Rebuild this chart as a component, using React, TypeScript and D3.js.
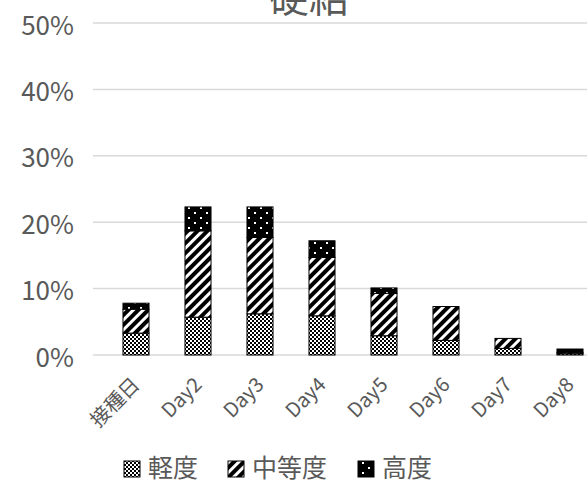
import React from "react";
import * as d3 from "d3";

const title = "硬結";
const categories = ["接種日", "Day2", "Day3", "Day4", "Day5", "Day6", "Day7", "Day8"];
const seriesNames = ["軽度", "中等度", "高度"];
const mild = [3.3, 5.7, 6.2, 5.9, 2.9, 2.2, 1.0, 0.2];
const moderate = [3.6, 13.0, 11.5, 8.8, 6.4, 5.1, 1.5, 0.2];
const severe = [0.9, 3.6, 4.6, 2.5, 0.8, 0, 0, 0.5];
const yTicks = [0, 10, 20, 30, 40, 50];

const W = 587;
const H = 483;
const FONT = "'Noto Sans CJK JP', 'Noto Sans', sans-serif";
const TEXT = "#595959";

export default function App() {
  const x = d3
    .scaleBand<string>()
    .domain(categories)
    .range([105, 601])
    .paddingInner(0.58)
    .paddingOuter(0.29);
  const y = d3.scaleLinear().domain([0, 50]).range([355, 23]);

  const rows = categories.map((c, i) => ({ cat: c, a: mild[i], b: moderate[i], c: severe[i] }));
  const stack = d3.stack<any>().keys(["a", "b", "c"])(rows);
  const fills = ["url(#pMild)", "url(#pMod)", "url(#pSev)"];

  const legendX = [124, 228, 358];

  return (
    <svg width={W} height={H} style={{ position: "absolute", left: 0, top: 0, overflow: "hidden" }}>
      <defs>
        <pattern id="pMild" width="4" height="4" patternUnits="userSpaceOnUse">
          <rect width="4" height="4" fill="#fff" />
          <rect x="0" y="0" width="2" height="2" fill="#000" />
          <rect x="2" y="2" width="2" height="2" fill="#000" />
        </pattern>
        <pattern id="pMod" width="7" height="7" patternUnits="userSpaceOnUse" patternTransform="rotate(45)">
          <rect width="7" height="7" fill="#fff" />
          <rect x="0" y="0" width="4" height="7" fill="#000" />
        </pattern>
        <pattern id="pSev" width="12" height="10" patternUnits="userSpaceOnUse">
          <rect width="12" height="10" fill="#000" />
          <rect x="2" y="2" width="2" height="2" fill="#fff" />
          <rect x="8" y="7" width="2" height="2" fill="#fff" />
        </pattern>
      </defs>

      <text x={309} y={12} textAnchor="middle" fontFamily={FONT} fontSize={40} fill={TEXT}>
        {title}
      </text>

      {yTicks.map((t) => (
        <g key={t}>
          <line x1={93} x2={587} y1={y(t)} y2={y(t)} stroke="#d9d9d9" strokeWidth={1.5} />
          <text
            x={74}
            y={y(t)}
            textAnchor="end"
            dominantBaseline="central"
            fontFamily={FONT}
            fontSize={26}
            fill={TEXT}
          >
            {t}%
          </text>
        </g>
      ))}

      {stack.map((layer, li) => (
        <g key={li}>
          {layer.map((d, i) => {
            const h = y(d[0]) - y(d[1]);
            if (h <= 0) return null;
            return (
              <rect
                key={i}
                x={x(categories[i])!}
                y={y(d[1])}
                width={x.bandwidth()}
                height={h}
                fill={fills[li]}
                stroke="#000"
                strokeWidth={1}
              />
            );
          })}
        </g>
      ))}

      {categories.map((c) => {
        const cx = x(c)! + x.bandwidth() / 2 - 1;
        return (
          <text
            key={c}
            transform={`translate(${cx},${380}) rotate(-45)`}
            textAnchor="end"
            dominantBaseline="central"
            fontFamily={FONT}
            fontSize={20}
            fill={TEXT}
          >
            {c}
          </text>
        );
      })}

      {seriesNames.map((s, i) => (
        <g key={s}>
          <rect x={legendX[i]} y={461} width={16} height={16} fill={fills[i]} stroke="#000" strokeWidth={1} />
          <text x={legendX[i] + 24} y={466} dominantBaseline="central" fontFamily={FONT} fontSize={25} fill={TEXT}>
            {s}
          </text>
        </g>
      ))}
    </svg>
  );
}
